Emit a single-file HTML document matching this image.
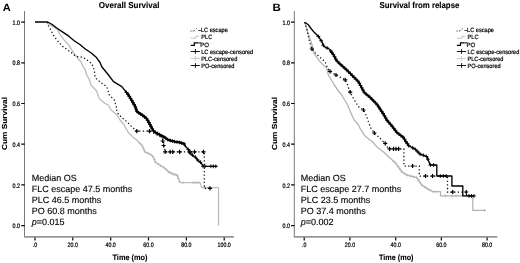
<!DOCTYPE html>
<html><head><meta charset="utf-8"><title>Survival curves</title>
<style>
html,body{margin:0;padding:0;background:#fff}
body{width:520px;height:263px;overflow:hidden}
svg{display:block;filter:grayscale(1);will-change:transform;text-rendering:geometricPrecision;font-family:"Liberation Sans",Arial,sans-serif}
.ax{fill:none;stroke:#7a7a7a;stroke-width:1}
.ax2{fill:none;stroke:#969696;stroke-width:1.6}
.tc{fill:none;stroke:#000;stroke-width:1.2}
.tk{font-size:6.4px;fill:#000;stroke:#000;stroke-width:.22}
.ti{font-size:8.6px;font-weight:bold;fill:#000;stroke:#000;stroke-width:.12}
.pl{font-size:10.6px;font-weight:bold;fill:#000}
.al{font-size:7.3px;font-weight:bold;fill:#000;stroke:#000;stroke-width:.1}
.bt{font-size:9px;fill:#000;stroke:#000;stroke-width:.12}
.lt{font-size:6.2px;fill:#000;stroke:#000;stroke-width:.2}
.cb{fill:none;stroke:#000;stroke-width:1.35;stroke-linejoin:round}
.cb2{fill:none;stroke:#000;stroke-width:1.55;stroke-linejoin:round}
.cd{fill:none;stroke:#111;stroke-width:1.25;stroke-dasharray:1.3 2.3}
.cg{fill:none;stroke:#bcbcbc;stroke-width:1.3;stroke-linejoin:round}
.mb{fill:none;stroke:#000;stroke-width:1.2}
.mk{fill:none;stroke:#000;stroke-width:.9}
.mg{fill:none;stroke:#b4b4b4;stroke-width:.7}
.ld{fill:none;stroke:#222;stroke-width:.9;stroke-dasharray:1.1 1.3}
.lg{fill:none;stroke:#bbb;stroke-width:.9}
.lb{fill:none;stroke:#000;stroke-width:1.2}
.lp{fill:none;stroke:#000;stroke-width:.9}
.lpg{fill:none;stroke:#c4c4c4;stroke-width:.8}
</style></head><body>
<svg width="520" height="263" viewBox="0 0 520 263">
<rect width="520" height="263" fill="#fff"/>
<g>
<text x="2.7" y="10.6" class="pl" textLength="8" lengthAdjust="spacingAndGlyphs">A</text>
<text x="98.8" y="7.95" class="ti" textLength="60.6" lengthAdjust="spacingAndGlyphs">Overall Survival</text>
<text transform="translate(6.9,150.1) rotate(-90)" class="al" textLength="53.1" lengthAdjust="spacingAndGlyphs">Cum Survival</text>
<path d="M24.5,11V237" class="ax"/><path d="M24.0,236.85H234" class="ax2"/><path d="M21.3,22.1H24.7M21.3,62.8H24.7M21.3,103.5H24.7M21.3,144.2H24.7M21.3,184.9H24.7M21.3,225.6H24.7M35.0,237.6V240.4M72.8,237.6V240.4M110.7,237.6V240.4M148.5,237.6V240.4M186.4,237.6V240.4M224.2,237.6V240.4" class="tc"/><text transform="translate(12.4,24.70)" class="tk" textLength="7.5" lengthAdjust="spacingAndGlyphs">1.0</text><text transform="translate(12.4,65.40)" class="tk" textLength="7.5" lengthAdjust="spacingAndGlyphs">0.8</text><text transform="translate(12.4,106.10)" class="tk" textLength="7.5" lengthAdjust="spacingAndGlyphs">0.6</text><text transform="translate(12.4,146.80)" class="tk" textLength="7.5" lengthAdjust="spacingAndGlyphs">0.4</text><text transform="translate(12.4,187.50)" class="tk" textLength="7.5" lengthAdjust="spacingAndGlyphs">0.2</text><text transform="translate(12.4,228.20)" class="tk" textLength="7.5" lengthAdjust="spacingAndGlyphs">0.0</text><text x="32.8" y="247.0" class="tk" textLength="4.4" lengthAdjust="spacingAndGlyphs">.0</text><text x="67.6" y="247.0" class="tk" textLength="10.3" lengthAdjust="spacingAndGlyphs">20.0</text><text x="105.5" y="247.0" class="tk" textLength="10.3" lengthAdjust="spacingAndGlyphs">40.0</text><text x="143.3" y="247.0" class="tk" textLength="10.3" lengthAdjust="spacingAndGlyphs">60.0</text><text x="181.2" y="247.0" class="tk" textLength="10.3" lengthAdjust="spacingAndGlyphs">80.0</text><text x="217.6" y="247.0" class="tk" textLength="13.2" lengthAdjust="spacingAndGlyphs">100.0</text>
<text x="112.5" y="260.3" class="al" style="font-size:8px" textLength="35" lengthAdjust="spacingAndGlyphs">Time (mo)</text>
<polyline points="47.6,22 47.6,23.6 51.4,25.5 57.1,29.3 60.9,35.9 64.7,40.7 68.5,44.5 71.3,49.2 74.2,54 78,58.7 80.8,61.6 82.7,65.7 85,69.3 86.7,75 89.3,79.3 90.9,85 96.7,91 99.2,98.4 105,103.4 108.4,105 111,110 116.7,114.5 120,120 124.2,125 125,126.8 128.4,132.5 133.5,137.6 136.7,140 140,143.5 141.8,145 145,151.8 151.8,155 154,158.4 155,161.8 158.4,164.3 164.3,167.7 168.4,171.7 171.7,173.5 176.7,175 177.6,176 180,182.6 200,182.6 201.8,187.6 218.5,187.6 218.5,225.5" class="cg"/>
<path d="M138.7,143.6h2.8M140.1,142.2v2.8M140.8,145.9h2.8M142.2,144.5v2.8M142.2,148.8h2.8M143.6,147.4v2.8M143.5,151.7h2.8M144.9,150.3v2.8M146.4,153.1h2.8M147.8,151.7v2.8M149.3,154.5h2.8M150.7,153.1v2.8M151.5,156.6h2.8M152.9,155.2v2.8M152.9,159.4h2.8M154.3,158.0v2.8M154.2,162.2h2.8M155.6,160.8v2.8M156.8,164.1h2.8M158.2,162.7v2.8M159.5,165.8h2.8M160.9,164.4v2.8M162.3,167.4h2.8M163.7,166.0v2.8M164.7,169.5h2.8M166.1,168.1v2.8M167.0,171.7h2.8M168.4,170.3v2.8M169.8,173.2h2.8M171.2,171.8v2.8M172.8,174.3h2.8M174.2,172.9v2.8M175.7,175.4h2.8M177.1,174.0v2.8M177.0,178.3h2.8M178.4,176.9v2.8M178.1,181.3h2.8M179.5,179.9v2.8M168.6,172.5h2.8M170.0,171.1v2.8M171.6,174.0h2.8M173.0,172.6v2.8M174.6,175.0h2.8M176.0,173.6v2.8M181.6,182.6h2.8M183.0,181.2v2.8M191.6,182.6h2.8M193.0,181.2v2.8M194.1,182.6h2.8M195.5,181.2v2.8M196.6,182.6h2.8M198.0,181.2v2.8M203.6,187.6h2.8M205.0,186.2v2.8M206.6,187.6h2.8M208.0,186.2v2.8" class="mg"/>
<polyline points="47.6,22 47.6,24.2 50.4,29.3 53.3,35 56.1,38.8 59,42.6 62.8,46.4 66.6,49.2 70.4,52 74.2,54.9 78,56.8 82.7,57.2 85.6,59 89.4,61.8 91.8,63.8 94.3,70 95.1,77.6 100,82 106.8,86.7 109.3,95 114.3,100 116.8,108.5 116.7,111.7 119.3,115 121.7,117.5 126.8,121.7 131.8,126.8 136.8,131.2 150,131.2 157,135 161.8,137.5 163.5,141.7 164.3,146.7 165.2,151.8 204.3,151.8 204.3,188.4 210,188.4" class="cd"/>
<path d="M134.7,131.2h4.2M136.8,129.1v4.2M147.4,131.2h4.2M149.5,129.1v4.2M160.6,141.0h4.2M162.7,138.9v4.2M161.5,145.5h4.2M163.6,143.4v4.2M163.1,151.8h4.2M165.2,149.7v4.2M168.1,151.8h4.2M170.2,149.7v4.2M170.7,151.8h4.2M172.8,149.7v4.2M177.5,151.8h4.2M179.6,149.7v4.2M187.9,151.8h4.2M190.0,149.7v4.2M192.4,151.8h4.2M194.5,149.7v4.2M201.4,151.8h4.2M203.5,149.7v4.2M207.9,188.4h4.2M210.0,186.3v4.2" class="mb"/>
<polyline points="35,22 47.6,22 51.4,24 57.1,28.3 62.8,32.1 68.5,35.9 74.2,40.7 79.9,44.5 85.6,49.2 91.3,53 96.5,57.6 100,62.5 101.8,66.8 107.7,74 113.5,81.7 121.8,86.7 128.5,95 135,106 137,111.7 143.5,115.9 147,119 150.2,125 153.5,131 155.5,132.5 163.5,136.7 168.4,140 175.2,141.7 180,142.5 184,143.8 186,146.7 188.6,150 190,153.4 193.6,156 195.2,157 198.5,161 200.3,162 203.5,166.3 217,166.3" class="cb"/>
<clipPath id="ca"><rect x="127" y="80" width="58.5" height="100"/></clipPath><polyline points="35,22 47.6,22 51.4,24 57.1,28.3 62.8,32.1 68.5,35.9 74.2,40.7 79.9,44.5 85.6,49.2 91.3,53 96.5,57.6 100,62.5 101.8,66.8 107.7,74 113.5,81.7 121.8,86.7 128.5,95 135,106 137,111.7 143.5,115.9 147,119 150.2,125 153.5,131 155.5,132.5 163.5,136.7 168.4,140 175.2,141.7 180,142.5 184,143.8 186,146.7 188.6,150 190,153.4 193.6,156 195.2,157 198.5,161 200.3,162 203.5,166.3 217,166.3" class="cb2" clip-path="url(#ca)" style="stroke-width:2.1"/>
<path d="M124.6,92.5h3.8M126.5,90.6v3.8M126.1,94.4h3.8M128.0,92.5v3.8M127.4,96.4h3.8M129.3,94.5v3.8M128.6,98.4h3.8M130.5,96.5v3.8M129.9,100.5h3.8M131.8,98.6v3.8M131.1,102.6h3.8M133.0,100.7v3.8M132.3,104.6h3.8M134.2,102.7v3.8M133.4,106.8h3.8M135.3,104.9v3.8M134.2,109.0h3.8M136.1,107.1v3.8M135.0,111.3h3.8M136.9,109.4v3.8M136.8,112.8h3.8M138.7,110.9v3.8M138.8,114.1h3.8M140.7,112.2v3.8M140.8,115.4h3.8M142.7,113.5v3.8M142.7,116.9h3.8M144.6,115.0v3.8M144.5,118.4h3.8M146.4,116.5v3.8M145.8,120.4h3.8M147.7,118.5v3.8M147.0,122.5h3.8M148.9,120.6v3.8M148.1,124.6h3.8M150.0,122.7v3.8M149.2,126.7h3.8M151.1,124.8v3.8M150.4,128.8h3.8M152.3,126.9v3.8M151.6,130.9h3.8M153.5,129.0v3.8M153.5,132.4h3.8M155.4,130.5v3.8M155.6,133.5h3.8M157.5,131.6v3.8M157.7,134.6h3.8M159.6,132.7v3.8M159.8,135.8h3.8M161.7,133.9v3.8M161.9,136.9h3.8M163.8,135.0v3.8M163.9,138.3h3.8M165.8,136.4v3.8M165.9,139.6h3.8M167.8,137.7v3.8M168.1,140.4h3.8M170.0,138.5v3.8M170.4,141.0h3.8M172.3,139.1v3.8M172.8,141.6h3.8M174.7,139.7v3.8M175.1,142.0h3.8M177.0,140.1v3.8M177.5,142.4h3.8M179.4,140.5v3.8M179.8,143.1h3.8M181.7,141.2v3.8M182.1,143.8h3.8M184.0,141.9v3.8M186.4,149.6h3.8M188.3,147.7v3.8M187.9,152.8h3.8M189.8,150.9v3.8M190.5,155.1h3.8M192.4,153.2v3.8M193.5,157.2h3.8M195.4,155.3v3.8M195.8,160.0h3.8M197.7,158.1v3.8M198.5,162.2h3.8M200.4,160.3v3.8M201.1,166.3h3.8M203.0,164.4v3.8M203.1,166.3h3.8M205.0,164.4v3.8M208.9,166.3h3.8M210.8,164.4v3.8M211.4,166.3h3.8M213.3,164.4v3.8M213.9,166.3h3.8M215.8,164.4v3.8" class="mk"/>
<path d="M190.29999999999998,31h3.4M194.29999999999998,30.6l2.4,-2.2M198.29999999999998,30.5h2.6" class="ld"/><path d="M190.7,38.199999999999996h5v-1.9h3.4" class="lg"/><path d="M190.7,45.3h3.6v-2.4h4.2" class="lb"/><path d="M199.29999999999998,42.3v1.2M200.39999999999998,42.3v1.2" class="lp"/><path d="M190.7,51.5h9.2M195.39999999999998,49.1v4.8" class="lp"/><path d="M190.7,58.5h9.2M195.39999999999998,56.1v4.8" class="lpg"/><path d="M190.7,65.5h9.2M195.39999999999998,63.1v4.8" class="lp"/><text x="199.0" y="32.3" class="lt" textLength="28.8" lengthAdjust="spacingAndGlyphs">-LC escape</text><text x="201.29999999999998" y="39.2" class="lt" textLength="11.0" lengthAdjust="spacingAndGlyphs">PLC</text><text x="200.29999999999998" y="46.8" class="lt" textLength="8.8" lengthAdjust="spacingAndGlyphs">PO</text><text x="201.2" y="54.2" class="lt" textLength="52.0" lengthAdjust="spacingAndGlyphs">LC escape-censored</text><text x="201.2" y="61.1" class="lt" textLength="36.1" lengthAdjust="spacingAndGlyphs">PLC-censored</text><text x="201.2" y="68.2" class="lt" textLength="33.3" lengthAdjust="spacingAndGlyphs">PO-censored</text>
<text x="31.7" y="181.4" class="bt">Median OS</text><text x="31.7" y="192.2" class="bt">FLC escape 47.5 months</text><text x="31.7" y="203.0" class="bt">PLC 46.5 months</text><text x="31.7" y="213.8" class="bt">PO 60.8 months</text><text x="31.7" y="224.7" class="bt"><tspan font-style="italic">p</tspan>=0.015</text>
</g>
<g>
<text x="272.5" y="10.6" class="pl" textLength="8.3" lengthAdjust="spacingAndGlyphs">B</text>
<text x="379.6" y="7.95" class="ti" textLength="79.8" lengthAdjust="spacingAndGlyphs">Survival from relapse</text>
<text transform="translate(276.9,150.1) rotate(-90)" class="al" textLength="53.1" lengthAdjust="spacingAndGlyphs">Cum Survival</text>
<path d="M294.3,11V237" class="ax"/><path d="M293.8,236.85H497.3" class="ax2"/><path d="M291.1,22.1H294.5M291.1,62.8H294.5M291.1,103.5H294.5M291.1,144.2H294.5M291.1,184.9H294.5M291.1,225.6H294.5M304.2,237.6V240.4M349.9,237.6V240.4M395.7,237.6V240.4M441.4,237.6V240.4M487.1,237.6V240.4" class="tc"/><text transform="translate(282.4,24.70)" class="tk" textLength="7.5" lengthAdjust="spacingAndGlyphs">1.0</text><text transform="translate(282.4,65.40)" class="tk" textLength="7.5" lengthAdjust="spacingAndGlyphs">0.8</text><text transform="translate(282.4,106.10)" class="tk" textLength="7.5" lengthAdjust="spacingAndGlyphs">0.6</text><text transform="translate(282.4,146.80)" class="tk" textLength="7.5" lengthAdjust="spacingAndGlyphs">0.4</text><text transform="translate(282.4,187.50)" class="tk" textLength="7.5" lengthAdjust="spacingAndGlyphs">0.2</text><text transform="translate(282.4,228.20)" class="tk" textLength="7.5" lengthAdjust="spacingAndGlyphs">0.0</text><text x="302.0" y="247.0" class="tk" textLength="4.4" lengthAdjust="spacingAndGlyphs">.0</text><text x="344.8" y="247.0" class="tk" textLength="10.3" lengthAdjust="spacingAndGlyphs">20.0</text><text x="390.6" y="247.0" class="tk" textLength="10.3" lengthAdjust="spacingAndGlyphs">40.0</text><text x="436.2" y="247.0" class="tk" textLength="10.3" lengthAdjust="spacingAndGlyphs">60.0</text><text x="482.0" y="247.0" class="tk" textLength="10.3" lengthAdjust="spacingAndGlyphs">80.0</text>
<text x="379" y="260.3" class="al" style="font-size:8px" textLength="34.5" lengthAdjust="spacingAndGlyphs">Time (mo)</text>
<polyline points="304.7,22.2 307.6,31.7 311,41.8 313.4,49.3 314,53.3 320,61.7 326.8,68.4 328.4,75 333.5,83.5 334.2,85 338.5,91 341.7,95 347.6,105 352.6,116.8 354.2,120 358.5,125 360,128.4 365,135.9 370,140 371.8,141 376.7,146.7 383.5,152 390,158 396,163.5 401.8,171.8 406.7,175 416.7,177.6 421.7,185 426.8,188.4 433,191.7 440.5,191.7 440.5,195.9 472.8,195.9 472.8,210.4 485.7,210.4" class="cg" style="stroke:#b4b4b4"/>
<path d="M392.7,161.7h2.8M394.1,160.3v2.8M394.9,164.0h2.8M396.3,162.6v2.8M396.8,166.6h2.8M398.2,165.2v2.8M398.6,169.2h2.8M400.0,167.8v2.8M400.4,171.8h2.8M401.8,170.4v2.8M403.1,173.6h2.8M404.5,172.2v2.8M405.9,175.2h2.8M407.3,173.8v2.8M409.0,176.0h2.8M410.4,174.6v2.8M412.1,176.8h2.8M413.5,175.4v2.8M415.2,177.6h2.8M416.6,176.2v2.8M417.0,180.1h2.8M418.4,178.7v2.8M418.8,182.8h2.8M420.2,181.4v2.8M420.7,185.3h2.8M422.1,183.9v2.8M423.4,187.1h2.8M424.8,185.7v2.8M426.1,188.8h2.8M427.5,187.4v2.8M428.9,190.3h2.8M430.3,188.9v2.8M431.8,191.7h2.8M433.2,190.3v2.8M434.6,191.7h2.8M436.0,190.3v2.8M443.6,195.9h2.8M445.0,194.5v2.8M450.6,195.9h2.8M452.0,194.5v2.8M454.6,195.9h2.8M456.0,194.5v2.8M483.1,210.4h2.8M484.5,209.0v2.8" class="mg"/>
<polyline points="304.7,22.2 306.7,28.4 309.2,40 311,46.8 312.5,50 315,52.6 318.4,55.9 325,61.7 327.6,68.4 330,71.4 336,75 345.2,79.8 347.7,85 348.4,87.5 350,91.7 353.5,98.4 358.5,106.7 363.5,110 366.8,116.8 368.4,121.7 371,128.4 374.3,133 380.2,138.4 385.2,143.4 388.5,148.8 403.9,148.8 403.9,166 419.3,166 419.3,176 447.5,176 447.5,192 466.5,192 466.5,195.9" class="cd"/>
<path d="M309.8,49.0h4.2M311.9,46.9v4.2M327.9,71.4h4.2M330.0,69.3v4.2M333.9,75.0h4.2M336.0,72.9v4.2M343.1,79.8h4.2M345.2,77.7v4.2M348.1,92.2h4.2M350.2,90.1v4.2M361.4,110.0h4.2M363.5,107.9v4.2M372.2,133.0h4.2M374.3,130.9v4.2M383.1,143.4h4.2M385.2,141.3v4.2M387.5,148.8h4.2M389.6,146.7v4.2M391.4,148.8h4.2M393.5,146.7v4.2M393.9,148.8h4.2M396.0,146.7v4.2M396.5,148.8h4.2M398.6,146.7v4.2M410.5,166.0h4.2M412.6,163.9v4.2M423.4,176.0h4.2M425.5,173.9v4.2M430.5,176.0h4.2M432.6,173.9v4.2M450.6,192.0h4.2M452.7,189.9v4.2M464.2,192.0h4.2M466.3,189.9v4.2" class="mb"/>
<polyline points="304.7,22.2 308.4,24.8 311,28.5 313.7,31.7 318.3,36.3 321.9,41.7 323.7,46.3 329.2,49 331.5,52 333.8,55.4 336.5,60.5 340.2,64.2 346.8,70 353.5,76.8 358.6,81.8 360.5,85.5 364.3,92.5 370.2,97.5 376.9,104.2 383.6,114.3 386.8,120 391.9,125.9 396.9,132.5 403.6,137.6 405.5,141 408.5,145.5 415.2,149.2 420.2,154.2 427,156.7 428.6,161 430.2,165 436.8,165 436.8,176 451.9,176 451.9,186 462.8,186 462.8,195.9 474,195.9" class="cb"/>
<clipPath id="cbb"><rect x="331" y="48" width="78" height="122"/></clipPath><polyline points="304.7,22.2 308.4,24.8 311,28.5 313.7,31.7 318.3,36.3 321.9,41.7 323.7,46.3 329.2,49 331.5,52 333.8,55.4 336.5,60.5 340.2,64.2 346.8,70 353.5,76.8 358.6,81.8 360.5,85.5 364.3,92.5 370.2,97.5 376.9,104.2 383.6,114.3 386.8,120 391.9,125.9 396.9,132.5 403.6,137.6 405.5,141 408.5,145.5 415.2,149.2 420.2,154.2 427,156.7 428.6,161 430.2,165 436.8,165 436.8,176 451.9,176 451.9,186 462.8,186 462.8,195.9 474,195.9" class="cb2" clip-path="url(#cbb)"/>
<path d="M316.5,36.5h3.8M318.4,34.6v3.8M319.3,40.7h3.8M321.2,38.8v3.8M321.4,45.2h3.8M323.3,43.3v3.8M325.2,48.0h3.8M327.1,46.1v3.8M328.9,51.1h3.8M330.8,49.2v3.8M329.9,52.4h3.8M331.8,50.5v3.8M331.4,54.6h3.8M333.3,52.7v3.8M332.7,56.8h3.8M334.6,54.9v3.8M333.9,59.1h3.8M335.8,57.2v3.8M335.3,61.2h3.8M337.2,59.3v3.8M337.2,63.1h3.8M339.1,61.2v3.8M339.1,64.9h3.8M341.0,63.0v3.8M341.0,66.6h3.8M342.9,64.7v3.8M343.0,68.3h3.8M344.9,66.4v3.8M344.9,70.0h3.8M346.8,68.1v3.8M346.7,71.9h3.8M348.6,70.0v3.8M348.6,73.7h3.8M350.5,71.8v3.8M350.4,75.6h3.8M352.3,73.7v3.8M352.2,77.4h3.8M354.1,75.5v3.8M354.1,79.2h3.8M356.0,77.3v3.8M355.9,81.1h3.8M357.8,79.2v3.8M357.4,83.2h3.8M359.3,81.3v3.8M358.6,85.5h3.8M360.5,83.6v3.8M359.8,87.8h3.8M361.7,85.9v3.8M361.1,90.1h3.8M363.0,88.2v3.8M362.3,92.3h3.8M364.2,90.4v3.8M364.2,94.1h3.8M366.1,92.2v3.8M366.2,95.7h3.8M368.1,93.8v3.8M368.2,97.4h3.8M370.1,95.5v3.8M370.1,99.3h3.8M372.0,97.4v3.8M371.9,101.1h3.8M373.8,99.2v3.8M373.7,102.9h3.8M375.6,101.0v3.8M375.4,104.9h3.8M377.3,103.0v3.8M376.9,107.0h3.8M378.8,105.1v3.8M378.3,109.2h3.8M380.2,107.3v3.8M379.8,111.4h3.8M381.7,109.5v3.8M381.2,113.5h3.8M383.1,111.6v3.8M382.5,115.8h3.8M384.4,113.9v3.8M383.8,118.0h3.8M385.7,116.1v3.8M385.1,120.3h3.8M387.0,118.4v3.8M386.8,122.2h3.8M388.7,120.3v3.8M388.5,124.2h3.8M390.4,122.3v3.8M390.2,126.2h3.8M392.1,124.3v3.8M391.8,128.3h3.8M393.7,126.4v3.8M393.4,130.3h3.8M395.3,128.4v3.8M394.9,132.4h3.8M396.8,130.5v3.8M397.0,134.0h3.8M398.9,132.1v3.8M399.0,135.6h3.8M400.9,133.7v3.8M401.1,137.1h3.8M403.0,135.2v3.8M402.6,139.2h3.8M404.5,137.3v3.8M403.9,141.5h3.8M405.8,139.6v3.8M405.4,143.6h3.8M407.3,141.7v3.8M406.9,145.7h3.8M408.8,143.8v3.8M410.8,147.8h3.8M412.7,145.9v3.8M413.7,149.6h3.8M415.6,147.7v3.8M416.0,151.9h3.8M417.9,150.0v3.8M418.3,154.2h3.8M420.2,152.3v3.8M421.4,155.3h3.8M423.3,153.4v3.8M424.5,156.5h3.8M426.4,154.6v3.8M426.0,159.2h3.8M427.9,157.3v3.8M428.5,165.0h3.8M430.4,163.1v3.8M431.7,165.0h3.8M433.6,163.1v3.8M438.4,176.0h3.8M440.3,174.1v3.8M441.5,176.0h3.8M443.4,174.1v3.8M444.3,176.0h3.8M446.2,174.1v3.8M467.1,195.9h3.8M469.0,194.0v3.8M469.6,195.9h3.8M471.5,194.0v3.8M472.1,195.9h3.8M474.0,194.0v3.8" class="mk"/>
<path d="M456.5,31h3.4M460.5,30.6l2.4,-2.2M464.5,30.5h2.6" class="ld"/><path d="M456.9,38.199999999999996h5v-1.9h3.4" class="lg"/><path d="M456.9,45.3h3.6v-2.4h4.2" class="lb"/><path d="M465.5,42.3v1.2M466.59999999999997,42.3v1.2" class="lp"/><path d="M456.9,51.5h9.2M461.59999999999997,49.1v4.8" class="lp"/><path d="M456.9,58.5h9.2M461.59999999999997,56.1v4.8" class="lpg"/><path d="M456.9,65.5h9.2M461.59999999999997,63.1v4.8" class="lp"/><text x="465.2" y="32.3" class="lt" textLength="28.8" lengthAdjust="spacingAndGlyphs">-LC escape</text><text x="467.5" y="39.2" class="lt" textLength="11.0" lengthAdjust="spacingAndGlyphs">PLC</text><text x="466.5" y="46.8" class="lt" textLength="8.8" lengthAdjust="spacingAndGlyphs">PO</text><text x="467.4" y="54.2" class="lt" textLength="52.0" lengthAdjust="spacingAndGlyphs">LC escape-censored</text><text x="467.4" y="61.1" class="lt" textLength="36.1" lengthAdjust="spacingAndGlyphs">PLC-censored</text><text x="467.4" y="68.2" class="lt" textLength="33.3" lengthAdjust="spacingAndGlyphs">PO-censored</text>
<text x="300.8" y="181.4" class="bt">Median OS</text><text x="300.8" y="192.2" class="bt">FLC escape 27.7 months</text><text x="300.8" y="203.0" class="bt">PLC 23.5 months</text><text x="300.8" y="213.8" class="bt">PO 37.4 months</text><text x="300.8" y="224.7" class="bt"><tspan font-style="italic">p</tspan>=0.002</text>
</g>
</svg>
</body></html>
